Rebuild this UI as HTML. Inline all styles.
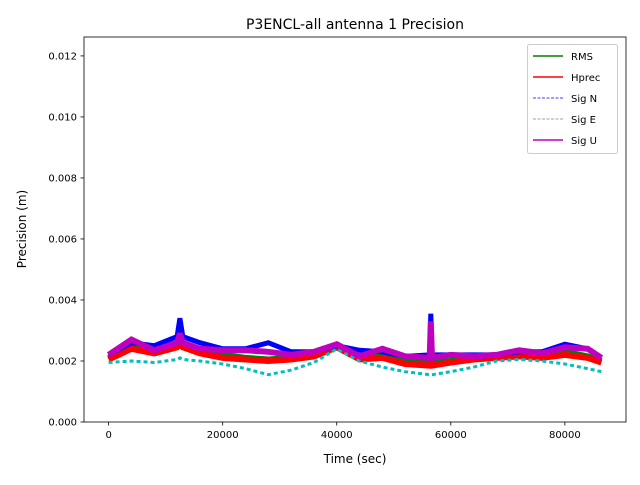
<!DOCTYPE html>
<html><head><meta charset="utf-8"><style>
body{margin:0;background:#fff}
svg text{font-family:"DejaVu Sans","Liberation Sans",sans-serif;fill:#000}
</style></head><body>
<svg id="chart" width="640" height="480" xmlns="http://www.w3.org/2000/svg">
<rect width="640" height="480" fill="#fff"/>
<text x="355" y="29" font-size="14" text-anchor="middle">P3ENCL-all antenna 1 Precision</text>
<g id="plot"></g>
<g id="axes"></g>
<text x="355" y="463" font-size="12" text-anchor="middle">Time (sec)</text>
<text transform="translate(26,229) rotate(-90)" font-size="12" text-anchor="middle">Precision (m)</text>
<g id="legend"></g>
</svg>
<script>
const times=[0,4000,8000,12000,12500,13000,16000,20000,24000,28000,32000,36000,40000,44000,48000,52000,56300,56500,56700,60000,64000,68000,72000,76000,80000,84000,86400];
const sigU=[2.2,2.7,2.35,2.6,2.9,2.6,2.4,2.35,2.35,2.3,2.2,2.3,2.55,2.15,2.4,2.15,2.1,3.3,2.1,2.2,2.15,2.2,2.35,2.25,2.45,2.4,2.1];
const sigN=[2.2,2.6,2.5,2.8,3.4,2.8,2.6,2.4,2.4,2.6,2.3,2.3,2.5,2.35,2.3,2.15,2.2,3.55,2.2,2.2,2.2,2.2,2.3,2.3,2.55,2.4,2.1];
const sigE=[1.95,2.0,1.95,2.05,2.1,2.05,2.0,1.9,1.75,1.55,1.7,1.95,2.4,2.0,1.8,1.65,1.55,1.55,1.55,1.65,1.8,2.0,2.05,2.0,1.9,1.75,1.65];
const rms=[2.1,2.5,2.3,2.5,2.6,2.5,2.3,2.2,2.1,2.05,2.1,2.2,2.5,2.1,2.2,2.0,1.95,2.0,1.95,2.0,2.1,2.15,2.2,2.15,2.3,2.15,2.0];
const hprec=[2.05,2.4,2.25,2.45,2.55,2.45,2.25,2.1,2.05,2.0,2.05,2.15,2.45,2.05,2.1,1.9,1.85,1.9,1.85,1.95,2.05,2.1,2.15,2.1,2.2,2.1,1.95];
const xTicks=[0,20000,40000,60000,80000];
const yTicks=[0,0.002,0.004,0.006,0.008,0.010,0.012];
const yTickLabels=["0.000","0.002","0.004","0.006","0.008","0.010","0.012"];
const legendLabels=["RMS","Hprec","Sig N","Sig E","Sig U"];
const NS="http://www.w3.org/2000/svg";
const L=84,R=626,T=37,B=422,xmin=-4320,xmax=90720,ymin=0,ymax=0.01262;
const X=v=>L+(v-xmin)/(xmax-xmin)*(R-L);
const Y=v=>B-(v-ymin)/(ymax-ymin)*(B-T);
function mk(tag,attrs,parent){const e=document.createElementNS(NS,tag);for(const k in attrs)e.setAttribute(k,attrs[k]);parent.appendChild(e);return e;}
const plot=document.getElementById('plot');
const series=[[rms,'#008000',6,''],[hprec,'#ff0000',6,''],[sigN,'#0000ff',5,''],[sigE,'#00bfbf',3,'4,3'],[sigU,'#bf00bf',6,'']];
const snames=['series-rms','series-hprec','series-sig-n','series-sig-e','series-sig-u'];
series.forEach((s,i)=>{
 const d=times.map((t,j)=>(j?'L':'M')+X(t).toFixed(1)+','+Y(s[0][j]/1000).toFixed(1)).join(' ');
 const p=mk('path',{d:d,fill:'none',stroke:s[1],'stroke-width':s[2],'stroke-linejoin':'miter','stroke-miterlimit':2,'stroke-dasharray':s[3]},plot);
 
 
});
const axes=document.getElementById('axes');
const frame=mk('rect',{x:L,y:T,width:R-L,height:B-T,fill:'none',stroke:'#000','stroke-width':0.8},axes);


xTicks.forEach(v=>{
 mk('line',{x1:X(v),x2:X(v),y1:B,y2:B+3.5,stroke:'#000','stroke-width':0.8},axes);
 const t=mk('text',{x:X(v),y:B+16,'font-size':10,'text-anchor':'middle'},axes);t.textContent=v;
 
 
});
yTicks.forEach((v,i)=>{
 mk('line',{x1:L-3.5,x2:L,y1:Y(v),y2:Y(v),stroke:'#000','stroke-width':0.8},axes);
 const t=mk('text',{x:L-7,y:Y(v)+3.5,'font-size':10,'text-anchor':'end'},axes);t.textContent=yTickLabels[i];
 
 
});
const lg=document.getElementById('legend');
mk('rect',{x:527.5,y:44.5,width:90,height:109,rx:2,fill:'#fff','fill-opacity':0.8,stroke:'#ccc'},lg);
const lstyles=[['#008000',1.5,''],['#ff0000',1.5,''],['#0000ff',0.8,'3,1.5'],['#808080',0.8,'3,1.5'],['#bf00bf',1.5,'']];
legendLabels.forEach((n,i)=>{
 const y=56+i*21;
 mk('line',{x1:533,x2:563,y1:y,y2:y,stroke:lstyles[i][0],'stroke-width':lstyles[i][1],'stroke-dasharray':lstyles[i][2]},lg);
 const t=mk('text',{x:571,y:y+4,'font-size':10},lg);t.textContent=n;
 
 
});
</script>
</body></html>
